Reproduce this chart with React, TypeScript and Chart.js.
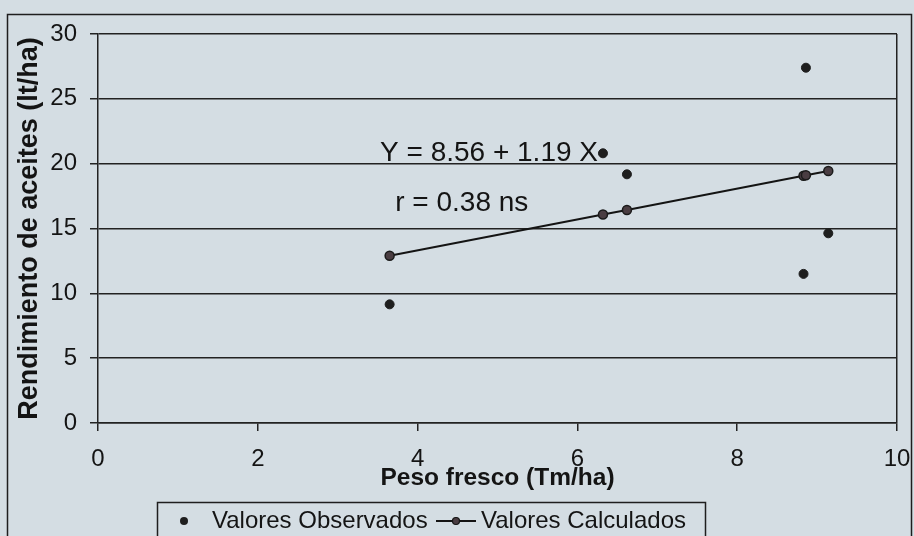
import React, { useEffect, useRef } from "react";
import { Chart, registerables } from "chart.js";

Chart.register(...registerables);

// ---- data ----
const observedX = [3.65, 6.32, 6.62, 8.83, 8.86, 9.14];
const observedY = [9.15, 20.8, 19.18, 11.5, 27.4, 14.63];
const calculatedX = [3.65, 6.32, 6.62, 8.83, 8.86, 9.14];
const calculatedY = [12.9, 16.08, 16.43, 19.07, 19.1, 19.44];

const xTickValues = [0, 2, 4, 6, 8, 10];
const yTickValues = [0, 5, 10, 15, 20, 25, 30];

const seriesLabels = ["Valores Observados", "Valores Calculados"];
const xTitle = "Peso fresco (Tm/ha)";
const yTitle = "Rendimiento de aceites (lt/ha)";

const equationText = "Y = 8.56 + 1.19 X";
const equationAt = [3.53, 20.78]; // data coords: left edge, vertical middle
const rText = "r = 0.38 ns";
const rAt = [3.72, 16.96];

const FONT = '"Liberation Sans", Arial, Helvetica, sans-serif';
const BG = "#d4dde3";
const INK = "#141414";

const decorPlugin = {
  id: "decor",
  beforeDraw(chart: any) {
    const { ctx, width, height } = chart;
    ctx.save();
    ctx.fillStyle = BG;
    ctx.fillRect(0, 0, width, height);
    ctx.restore();
  },
  afterDraw(chart: any) {
    const { ctx, scales } = chart;
    ctx.save();
    // outer frame
    ctx.strokeStyle = "#1e1e1e";
    ctx.lineWidth = 1.5;
    ctx.strokeRect(7.5, 14.5, 904, 540);

    // annotations
    ctx.fillStyle = INK;
    ctx.textAlign = "left";
    ctx.textBaseline = "middle";
    ctx.font = `28px ${FONT}`;
    ctx.fillText(equationText, scales.x.getPixelForValue(equationAt[0]), scales.y.getPixelForValue(equationAt[1]));
    ctx.fillText(rText, scales.x.getPixelForValue(rAt[0]), scales.y.getPixelForValue(rAt[1]));

    // legend
    ctx.strokeStyle = "#1e1e1e";
    ctx.lineWidth = 1.5;
    ctx.strokeRect(157.5, 502.5, 548, 40);
    const ly = 521;
    ctx.fillStyle = "#1e1e1e";
    ctx.beginPath();
    ctx.arc(184, ly, 4, 0, Math.PI * 2);
    ctx.fill();
    ctx.font = `24px ${FONT}`;
    ctx.fillStyle = INK;
    ctx.fillText(seriesLabels[0], 212, ly);
    ctx.strokeStyle = INK;
    ctx.lineWidth = 2;
    ctx.beginPath();
    ctx.moveTo(436, ly);
    ctx.lineTo(476, ly);
    ctx.stroke();
    ctx.fillStyle = "#4a3d42";
    ctx.beginPath();
    ctx.arc(456, ly, 3.5, 0, Math.PI * 2);
    ctx.fill();
    ctx.lineWidth = 1.2;
    ctx.stroke();
    ctx.fillStyle = INK;
    ctx.fillText(seriesLabels[1], 481, ly);
    ctx.restore();
  },
};

export default function App() {
  const canvasRef = useRef<HTMLCanvasElement | null>(null);

  useEffect(() => {
    const canvas = canvasRef.current;
    if (!canvas) return;
    Chart.defaults.font.family = FONT;
    const chart = new Chart(canvas, {
      type: "scatter",
      data: {
        datasets: [
          {
            label: seriesLabels[1],
            data: calculatedX.map((x, i) => ({ x, y: calculatedY[i] })),
            showLine: true,
            borderColor: INK,
            borderWidth: 2,
            pointRadius: 4.5,
            pointBackgroundColor: "#4a3d42",
            pointBorderColor: "#1a1a1a",
            pointBorderWidth: 1.5,
          },
          {
            label: seriesLabels[0],
            data: observedX.map((x, i) => ({ x, y: observedY[i] })),
            showLine: false,
            pointRadius: 4.5,
            pointBackgroundColor: "#1e1e1e",
            pointBorderColor: "#1e1e1e",
            pointBorderWidth: 1,
          },
        ],
      },
      options: {
        animation: false,
        responsive: false,
        devicePixelRatio: 1,
        layout: { padding: { top: 34, right: 17, left: 0, bottom: 0 } },
        plugins: { legend: { display: false }, tooltip: { enabled: false } },
        scales: {
          x: {
            type: "linear",
            min: 0,
            max: 10,
            afterBuildTicks: (s: any) => {
              s.ticks = xTickValues.map((v) => ({ value: v }));
            },
            afterFit: (s: any) => {
              s.height = 113;
              s.paddingLeft = 0;
              s.paddingRight = 0;
            },
            ticks: {
              color: INK,
              font: { size: 24, family: FONT },
              padding: 14,
              maxRotation: 0,
            },
            grid: {
              color: (c: any) => (c.tick && c.tick.value === 10 ? "#222" : "rgba(0,0,0,0)"),
              tickColor: "#222",
              tickLength: 8,
              lineWidth: 1.5,
            },
            border: { color: "#222", width: 1.5 },
            title: {
              display: true,
              text: xTitle,
              color: INK,
              font: { size: 24.5, weight: "bold", family: FONT },
              padding: { top: 0, bottom: 43 },
            },
          },
          y: {
            type: "linear",
            min: 0,
            max: 30,
            afterBuildTicks: (s: any) => {
              s.ticks = yTickValues.map((v) => ({ value: v }));
            },
            afterFit: (s: any) => {
              s.width = 98;
            },
            ticks: {
              color: INK,
              font: { size: 24, family: FONT },
              padding: 13,
            },
            grid: {
              color: "#222",
              tickColor: "#222",
              tickLength: 8,
              lineWidth: 1.5,
            },
            border: { color: "#222", width: 1.5 },
            title: {
              display: true,
              text: yTitle,
              color: INK,
              font: { size: 27, weight: "bold", family: FONT },
              padding: { top: 13, bottom: 0 },
            },
          },
        },
      },
      plugins: [decorPlugin],
    } as any);
    return () => chart.destroy();
  }, []);

  return (
    <div style={{ position: "absolute", left: 0, top: 0, width: 914, height: 536, background: BG }}>
      <canvas ref={canvasRef} width={914} height={536} style={{ display: "block" }} />
    </div>
  );
}
